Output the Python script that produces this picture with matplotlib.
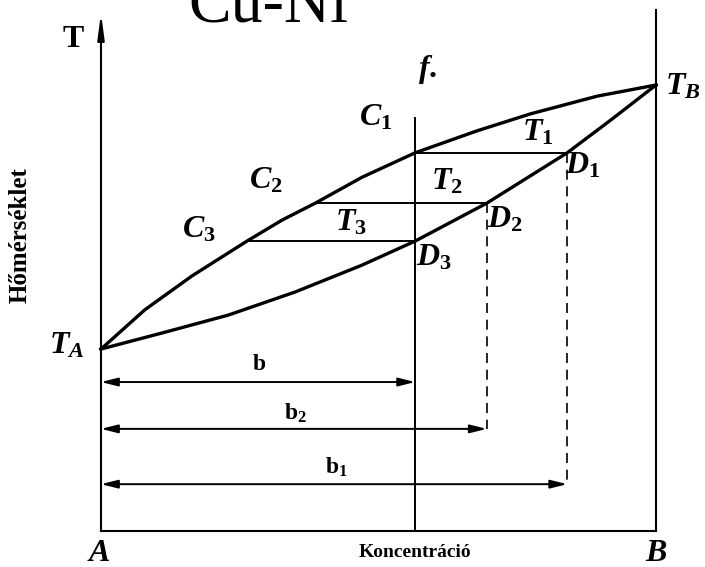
import matplotlib
matplotlib.use("Agg")
import matplotlib.pyplot as plt

plt.rcParams["mathtext.fontset"] = "custom"
plt.rcParams["mathtext.rm"] = "Liberation Serif:bold"
plt.rcParams["mathtext.it"] = "Liberation Serif:bold:italic"
plt.rcParams["mathtext.bf"] = "Liberation Serif:bold"

# Composition (% of B) and temperature (relative scale, T_B = 100)
liquidus_c = [0.0, 7.9, 16.4, 26.3, 32.6, 38.6, 47.0, 56.6, 67.7, 77.3, 89.4, 100.0]
liquidus_t = [40.8, 49.6, 57.2, 65.0, 69.7, 73.5, 79.3, 84.8, 89.7, 93.5, 97.5, 100.0]
solidus_c = [0.0, 11.0, 22.9, 35.0, 47.0, 56.6, 69.5, 84.0, 91.7, 100.0]
solidus_t = [40.8, 44.4, 48.4, 53.6, 59.6, 65.0, 73.5, 84.8, 92.0, 100.0]

# Tie lines T1, T2, T3
tie_t = [84.8, 73.5, 65.0]
tie_liquid_c = [56.6, 38.6, 26.3]
tie_solid_c = [84.0, 69.5, 56.6]

alloy_c = 56.6
alloy_top = 92.6
axis_top = 116.1
right_top = 116.8

# Dimension lines b, b2, b1
dim_t = [33.4, 22.9, 10.5]
dim_end = [56.6, 69.5, 84.0]
dim_labels = [r"$\mathbf{b}$", r"$\mathbf{b_2}$", r"$\mathbf{b_1}$"]

fig = plt.figure(figsize=(7.05, 5.67), dpi=100)
ax = fig.add_axes([0, 0, 1, 1])
ax.set_xlim(-18.2, 108.83)
ax.set_ylim(-8.07, 119.06)
ax.axis("off")

k = "black"
# frame: temperature axes at A and B, composition axis
ax.plot([0, 0], [0, axis_top - 3], color=k, lw=1.5)
ax.annotate("", xy=(0, axis_top), xytext=(0, axis_top - 5),
            arrowprops=dict(arrowstyle="-|>,head_length=1.5,head_width=0.2",
                            color=k, lw=1.5, mutation_scale=10,
                            shrinkA=0, shrinkB=0))
ax.plot([100, 100], [0, right_top], color=k, lw=1.5)
ax.plot([0, 100], [0, 0], color=k, lw=1.5)

# liquidus and solidus
ax.plot(liquidus_c, liquidus_t, color=k, lw=2.4, solid_joinstyle="round")
ax.plot(solidus_c, solidus_t, color=k, lw=2.4, solid_joinstyle="round")

# alloy vertical
ax.plot([alloy_c, alloy_c], [0, alloy_top], color=k, lw=1.4)

# tie lines
for t, cl, cs in zip(tie_t, tie_liquid_c, tie_solid_c):
    ax.plot([cl, cs], [t, t], color=k, lw=1.4)

# dashed projections from D2 and D1
ax.plot([tie_solid_c[1]] * 2, [tie_t[1], dim_t[1]], color=k, lw=1.2,
        ls=(0, (6, 4)))
ax.plot([tie_solid_c[0]] * 2, [tie_t[0], dim_t[2]], color=k, lw=1.2,
        ls=(0, (6, 4)))

# dimension arrows
for t, e in zip(dim_t, dim_end):
    ax.annotate("", xy=(e, t), xytext=(0, t),
                arrowprops=dict(arrowstyle="<|-|>,head_length=1.0,head_width=0.25",
                                color=k, lw=1.4, mutation_scale=10,
                                shrinkA=0, shrinkB=0))

lab_pos = [(28.5, 37.7), (35.0, 26.5), (42.5, 14.3)]
for (x, y), s in zip(lab_pos, dim_labels):
    ax.text(x, y, s, fontsize=17, ha="center", va="center")

big = 23
labels = [
    (49.5, 92.8, r"$C_1$"), (29.7, 78.7, r"$C_2$"), (17.7, 67.7, r"$C_3$"),
    (78.7, 89.5, r"$T_1$"), (62.3, 78.5, r"$T_2$"), (45.0, 69.3, r"$T_3$"),
    (86.7, 82.1, r"$D_1$"), (72.8, 70.0, r"$D_2$"), (60.0, 61.4, r"$D_3$"),
    (-6.1, 41.7, r"$T_A$"), (104.9, 99.8, r"$T_B$"),
    (58.9, 103.4, r"$f.$"),
    (-0.4, -4.9, r"$A$"), (100.0, -4.9, r"$B$"),
]
for x, y, s in labels:
    ax.text(x, y, s, fontsize=big, ha="center", va="center")

ax.text(-5.0, 110.1, "T", fontsize=big, fontweight="bold",
        family="Liberation Serif", ha="center", va="center")
ax.text(56.6, -4.9, "Koncentráció", fontsize=14, fontweight="bold",
        family="Liberation Serif", ha="center", va="center")
ax.text(-14.6, 66.4, "Hőmérséklet", fontsize=18, fontweight="bold",
        family="Liberation Serif", ha="center", va="center", rotation=90)

fig.text(268 / 705, 1 - 22 / 567, "Cu-Ni", fontsize=46,
         family="Liberation Serif", ha="center", va="baseline")

fig.savefig("out.png", dpi=100)
